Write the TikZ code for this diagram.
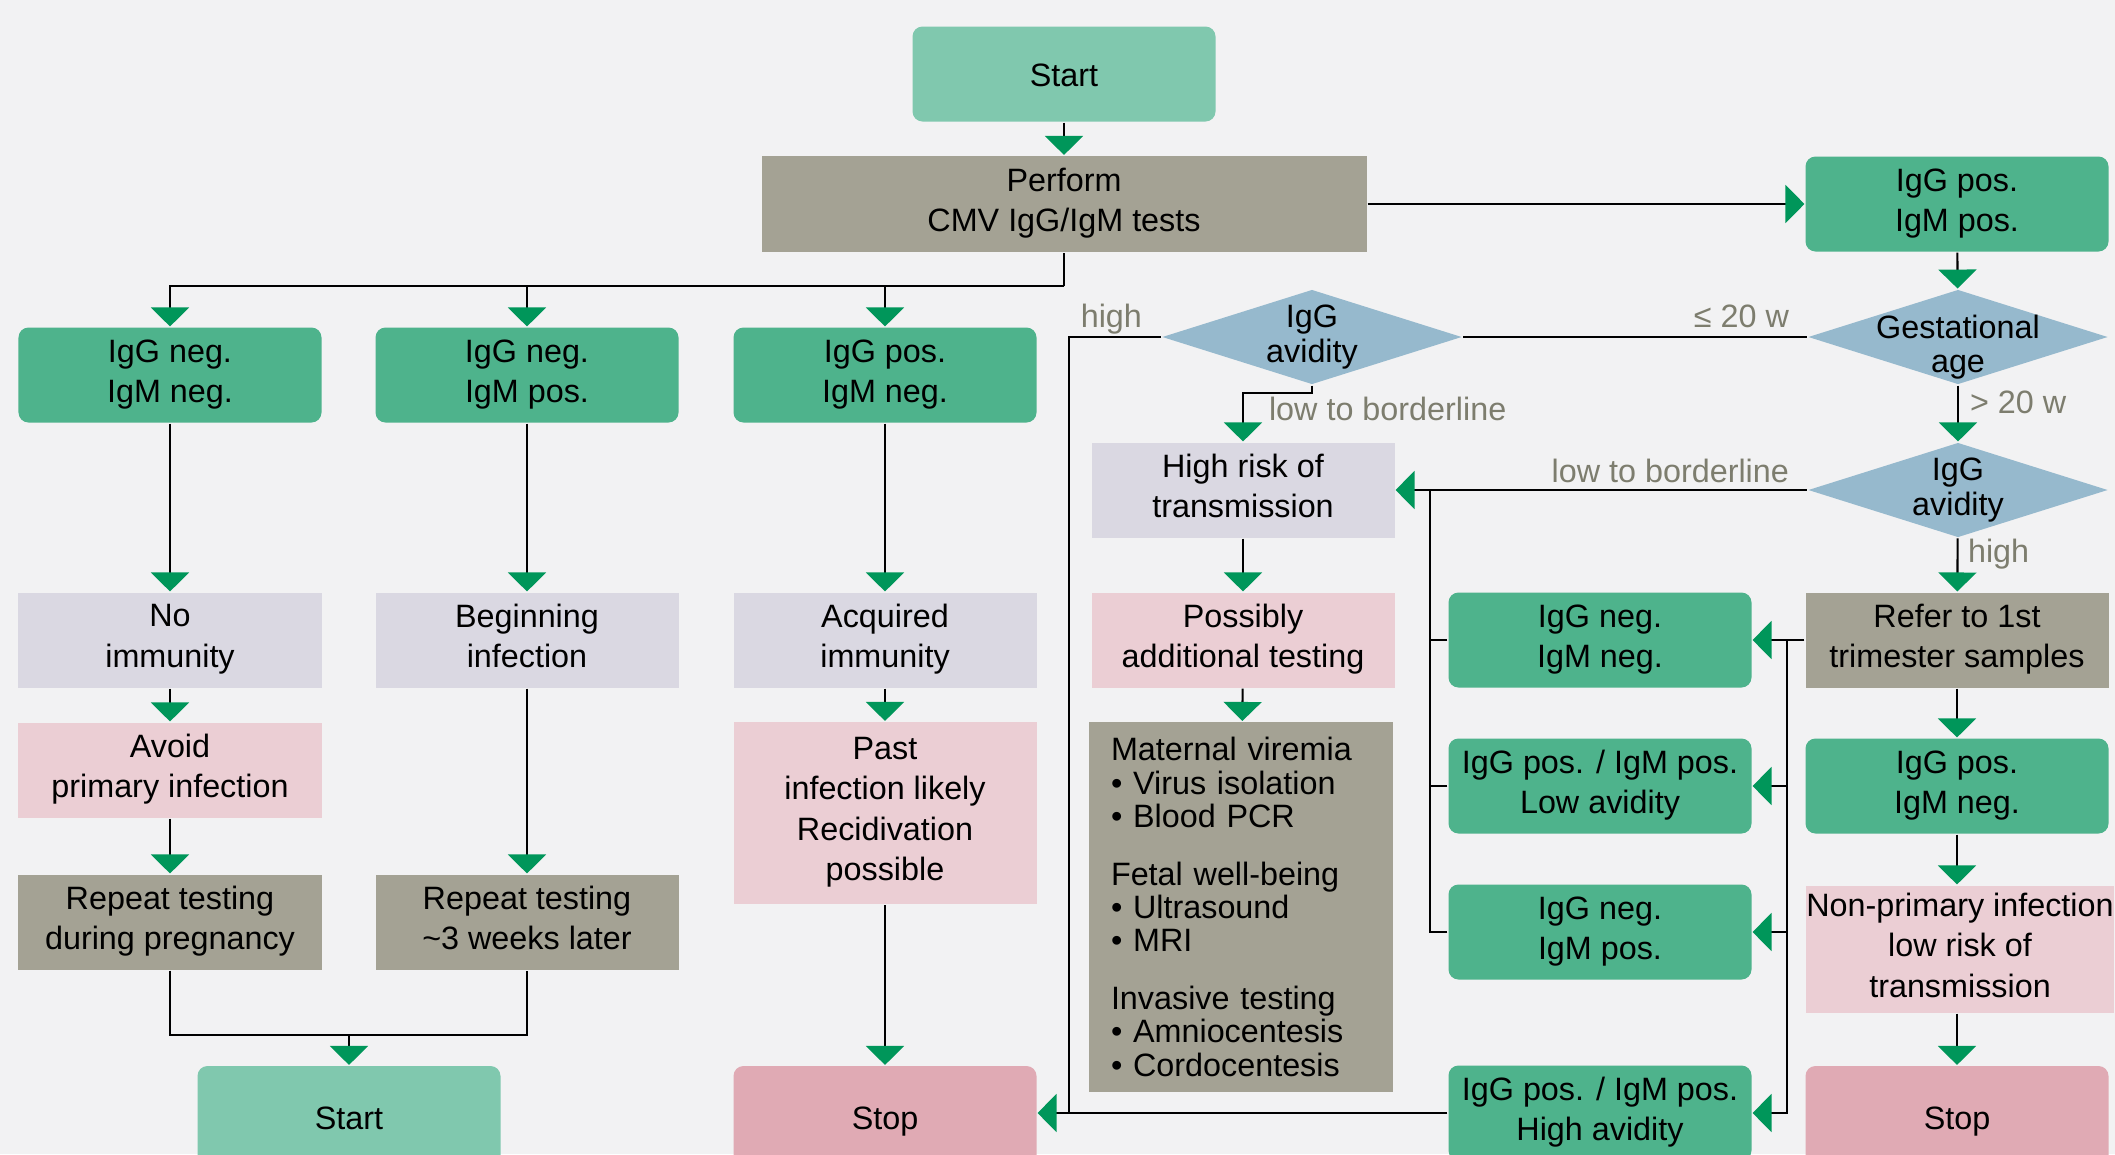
\documentclass[tikz,border=0pt]{standalone}
\usepackage{fontspec}
\setmainfont{Liberation Sans}
\usetikzlibrary{arrows.meta,shapes.geometric}
\definecolor{bgcolor}{HTML}{F2F2F3}
\definecolor{lightgreen}{HTML}{80C8AE}
\definecolor{midgreen}{HTML}{4EB38C}
\definecolor{stonegray}{HTML}{A4A294}
\definecolor{lavgray}{HTML}{DAD8E2}
\definecolor{palepink}{HTML}{EBCED4}
\definecolor{stoppink}{HTML}{E0AAB4}
\definecolor{diamondblue}{HTML}{96B9CD}
\definecolor{arrowgreen}{HTML}{00965A}
\definecolor{labelgray}{HTML}{7D7D6E}
\begin{document}
\begin{tikzpicture}
	[line width=0.6pt,
	box/.style={minimum width=3.03cm,minimum height=0.95cm,inner sep=0pt,align=center,font=\fontsize{9.2pt}{11.5pt}\selectfont,execute at begin node=\rule{0pt}{9.2pt},execute at end node=\rule[-2.3pt]{0pt}{2.3pt}},
	greenbox/.style={box,fill=midgreen,rounded corners=0.1cm},
	lightbox/.style={box,fill=lightgreen,rounded corners=0.1cm},
	stopbox/.style={box,fill=stoppink,rounded corners=0.1cm},
	graybox/.style={box,fill=stonegray},
	lavbox/.style={box,fill=lavgray},
	pinkbox/.style={box,fill=palepink},
	listbox/.style={fill=stonegray,text width=2.6cm,inner xsep=0.22cm,inner ysep=0pt,minimum height=3.70cm,align=left,font=\fontsize{9.2pt}{9.5pt}\selectfont},
	decision/.style={diamond,fill=diamondblue,minimum width=3cm,minimum height=0.95cm,inner sep=0pt},
	decisiontext/.style={align=center,inner sep=0pt,font=\fontsize{9.2pt}{9.8pt}\selectfont},
	labeltext/.style={text=labelgray,inner sep=0pt,font=\fontsize{9.2pt}{11pt}\selectfont},
	greenarrow/.style={-{Triangle[width=0.38cm,length=0.19cm,color=arrowgreen]}}]
	\useasboundingbox (0,0) rectangle (21.15,-11.54);
	\clip (0,0) rectangle (21.15,-11.54);
	\fill[bgcolor] (0,0) rectangle (21.15,-11.54);
	
	\node[lightbox,name=start] at (10.64,-0.74) {Start};
	\node[graybox,name=perform,minimum width=6.05cm,minimum height=0.96cm] at (10.64,-2.04) {Perform\\CMV IgG/IgM tests};
	\node[greenbox,name=igpp] at (19.57,-2.04) {IgG pos.\\IgM pos.};
	\node[greenbox,name=ggnn] at (1.70,-3.75) {IgG neg.\\IgM neg.};
	\node[greenbox,name=ggnp] at (5.27,-3.75) {IgG neg.\\IgM pos.};
	\node[greenbox,name=gpmn] at (8.85,-3.75) {IgG pos.\\IgM neg.};
	\node[decision,name=avidl,label={[decisiontext,name=avidltext]center:IgG\\avidity}] at (13.12,-3.37) {};
	\node[decision,name=gest,label={[decisiontext,name=gesttext,yshift=-0.1cm]center:Gestational\\age}] at (19.58,-3.37) {};
	\node[decision,name=avidr,label={[decisiontext,name=avidrtext]center:IgG\\avidity}] at (19.58,-4.90) {};
	\node[lavbox,name=highrisk] at (12.43,-4.90) {High risk of\\transmission};
	\node[lavbox,name=noimm] at (1.70,-6.40) {No\\immunity};
	\node[lavbox,name=beginning] at (5.27,-6.40) {Beginning\\infection};
	\node[lavbox,name=acquired] at (8.85,-6.40) {Acquired\\immunity};
	\node[pinkbox,name=possibly] at (12.43,-6.40) {Possibly\\additional testing};
	\node[greenbox,name=refnn] at (16.00,-6.40) {IgG neg.\\IgM neg.};
	\node[graybox,name=refer] at (19.57,-6.40) {Refer to 1st\\trimester samples};
	\node[pinkbox,name=avoid] at (1.70,-7.70) {Avoid\\primary infection};
	\node[pinkbox,name=past,minimum height=1.82cm] at (8.85,-8.13) {Past\\infection likely\\Recidivation\\possible};
	\node[listbox,name=invest] at (12.41,-9.07) {Maternal viremia\\• Virus isolation\\• Blood PCR\\[6.9pt]Fetal well-being\\• Ultrasound\\• MRI\\[6.9pt]Invasive testing\\• Amniocentesis\\• Cordocentesis};
	\node[greenbox,name=lowav] at (16.00,-7.86) {IgG pos. / IgM pos.\\Low avidity};
	\node[greenbox,name=igpn] at (19.57,-7.86) {IgG pos.\\IgM neg.};
	\node[greenbox,name=refnp] at (16.00,-9.32) {IgG neg.\\IgM pos.};
	\node[pinkbox,name=nonprim,minimum width=3.04cm,minimum height=1.27cm] at (19.60,-9.49) {Non-primary infection\\low risk of\\transmission};
	\node[graybox,name=rep1] at (1.70,-9.22) {Repeat testing\\during pregnancy};
	\node[graybox,name=rep2] at (5.27,-9.22) {Repeat testing\\\textasciitilde3 weeks later};
	\node[lightbox,name=startb,minimum height=1.02cm] at (3.49,-11.17) {Start};
	\node[stopbox,name=stopm,minimum height=1.02cm] at (8.85,-11.17) {Stop};
	\node[greenbox,name=highav] at (16.00,-11.13) {IgG pos. / IgM pos.\\High avidity};
	\node[stopbox,name=stopr,minimum height=1.02cm] at (19.57,-11.17) {Stop};
	
	\node[labeltext,anchor=base east,name=highl] at (11.43,-3.27) {high};
	\node[labeltext,anchor=base east,name=le20] at (17.90,-3.27) {≤ 20 w};
	\node[labeltext,anchor=base west,name=lowl] at (12.68,-4.20) {low to borderline};
	\node[labeltext,anchor=base west,name=gt20] at (19.69,-4.13) {> 20 w};
	\node[labeltext,anchor=base east,name=lowr] at (17.90,-4.82) {low to borderline};
	\node[labeltext,anchor=base west,name=highr] at (19.67,-5.62) {high};
	
	\coordinate (split) at (10.64,-2.86);
	\coordinate (merge) at (3.49,-10.35);
	\coordinate (highjoin) at (10.69,-11.13);
	\coordinate (lowjoin) at (14.30,-4.90);
	\coordinate (referjoin) at (17.87,-6.40);
	
	\draw[greenarrow] (start) -- (perform);
	\draw (perform) -- (split);
	\foreach \n in {ggnn,ggnp,gpmn}
	{
		\draw[greenarrow] (split) -| (\n);
	}
	\draw[greenarrow] (perform) -- (igpp);
	\draw[greenarrow] (igpp) -- (gest);
	\draw (gest) -- (avidl);
	\draw[greenarrow] (gest) -- (avidr);
	\draw[greenarrow] (avidr) -- (highrisk);
	\draw[greenarrow] (avidr) -- (refer);
	\draw[greenarrow] (avidl.south) -- ++(0,-0.07) -| (highrisk);
	\draw (avidl.west) -| (highjoin);
	\draw[greenarrow] (highav) -- (stopm.east |- highav);
	\draw[greenarrow] (highrisk) -- (possibly);
	\draw[greenarrow] (possibly) -- (invest);
	\draw[greenarrow] (ggnn) -- (noimm);
	\draw[greenarrow] (ggnp) -- (beginning);
	\draw[greenarrow] (gpmn) -- (acquired);
	\draw[greenarrow] (noimm) -- (avoid);
	\draw[greenarrow] (avoid) -- (rep1);
	\draw[greenarrow] (beginning) -- (rep2);
	\draw[greenarrow] (acquired) -- (past);
	\draw[greenarrow] (past) -- (stopm);
	\draw (rep1) |- (merge) -| (rep2);
	\draw[greenarrow] (merge) -- (startb);
	\foreach \n in {refnn,lowav,refnp}
	{
		\draw (\n.west) -| (lowjoin);
	}
	\draw[greenarrow] (refer) -- (refnn);
	\foreach \n in {lowav,refnp,highav}
	{
		\draw[greenarrow] (referjoin) |- (\n);
	}
	\draw[greenarrow] (refer) -- (igpn);
	\draw[greenarrow] (igpn) -- (igpn |- nonprim.north);
	\draw[greenarrow] (stopr |- nonprim.south) -- (stopr);
\end{tikzpicture}
\end{document}
